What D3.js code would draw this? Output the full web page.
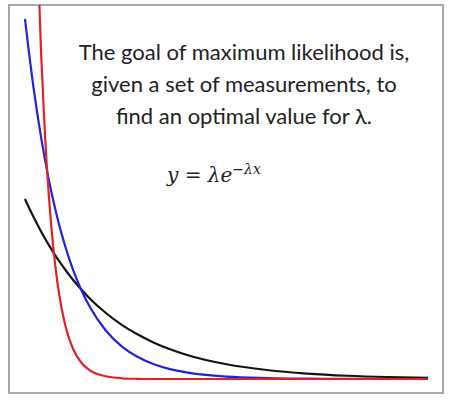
<!DOCTYPE html>
<html>
<head>
<meta charset="utf-8">
<script src="https://cdn.jsdelivr.net/npm/d3@7"></script>
<style>
  html, body { margin: 0; padding: 0; background: #fff; }
  svg { display: block; }
</style>
</head>
<body>
<svg id="chart" width="455" height="407"></svg>
<script>
// ---- data ----
const xValues = [0, 0.05, 0.1, 0.15, 0.2, 0.25, 0.3, 0.35, 0.4, 0.45, 0.5, 0.55, 0.6, 0.7, 0.8, 1.0, 1.2, 1.4, 1.6, 1.8, 2.0, 2.5, 3.0, 3.5, 4.0, 4.5, 5.0];
const blackValues = [1, 0.951, 0.905, 0.861, 0.819, 0.779, 0.741, 0.705, 0.670, 0.638, 0.607, 0.577, 0.549, 0.497, 0.449, 0.368, 0.301, 0.247, 0.202, 0.165, 0.135, 0.082, 0.050, 0.030, 0.018, 0.011, 0.007];
const blueValues  = [2, 1.810, 1.637, 1.482, 1.341, 1.213, 1.098, 0.993, 0.899, 0.813, 0.736, 0.666, 0.602, 0.493, 0.404, 0.271, 0.181, 0.122, 0.082, 0.055, 0.037, 0.013, 0.005, 0.002, 0.001, 0.000, 0.000];
const redValues   = [6, 4.445, 3.293, 2.439, 1.807, 1.339, 0.992, 0.735, 0.544, 0.403, 0.299, 0.221, 0.164, 0.090, 0.049, 0.015, 0.004, 0.001, 0, 0, 0, 0, 0, 0, 0, 0, 0];
const seriesNames = ["lambda = 1", "lambda = 2", "lambda = 6"];
const textLines = ["The goal of maximum likelihood is,", "given a set of measurements, to", "find an optimal value for λ."];

// ---- layout ----
const svg = d3.select("#chart");
const box = { x: 9, y: 5, w: 434, h: 388 };

const x = d3.scaleLinear().domain([0, 5]).range([25, 428]);
const y = d3.scaleLinear().domain([0, 2]).range([379, 19]);

svg.append("defs").append("clipPath").attr("id", "clip")
  .append("rect").attr("x", box.x).attr("y", box.y).attr("width", box.w).attr("height", box.h);

svg.append("rect")
  .attr("x", box.x).attr("y", box.y).attr("width", box.w).attr("height", box.h)
  .attr("fill", "#fff").attr("stroke", "#a8a8a8").attr("stroke-width", 2);

const series = [
  { name: seriesNames[0], values: blackValues, color: "#141414" },
  { name: seriesNames[1], values: blueValues,  color: "#2222dd" },
  { name: seriesNames[2], values: redValues,   color: "#e02228" }
];

const line = d3.line()
  .x((d, i) => x(xValues[i]))
  .y(d => y(d))
  .curve(d3.curveMonotoneX);

const g = svg.append("g").attr("clip-path", "url(#clip)");
g.selectAll("path.curve").data(series).join("path")
  .attr("class", "curve")
  .attr("d", s => line(s.values))
  .attr("fill", "none")
  .attr("stroke", s => s.color)
  .attr("stroke-width", 2.2)
  .attr("stroke-linejoin", "round");

// ---- text ----
svg.selectAll("text.desc").data(textLines).join("text")
  .attr("class", "desc")
  .attr("x", 244)
  .attr("y", (d, i) => 60 + i * 32)
  .attr("text-anchor", "middle")
  .attr("font-family", "Lato, 'Open Sans', sans-serif")
  .attr("font-size", 22)
  .attr("fill", "#222")
  .text(d => d);

const eq = svg.append("text")
  .attr("x", 167).attr("y", 182)
  .attr("font-family", "'DejaVu Serif', 'Liberation Serif', serif")
  .attr("font-size", 20)
  .attr("fill", "#222");
eq.append("tspan").attr("font-style", "italic").text("y");
eq.append("tspan").text(" = ");
eq.append("tspan").attr("font-style", "italic").text("λe");
eq.append("tspan").attr("dy", -8).attr("font-size", 14).attr("font-style", "italic").text("−λx");
</script>
</body>
</html>
